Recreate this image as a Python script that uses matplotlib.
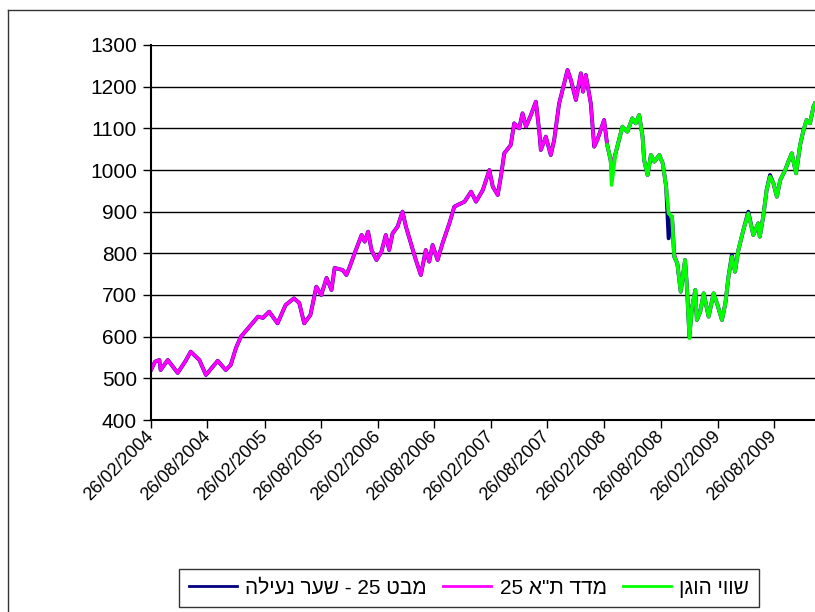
import datetime as dt
import matplotlib
matplotlib.use("Agg")
import matplotlib.pyplot as plt
from matplotlib.lines import Line2D

plt.rcParams['font.family'] = ['Liberation Sans', 'DejaVu Sans']

# labels in visual (left-to-right) order, as drawn by a Hebrew Excel
label_close = "הליענ רעש - 25 טבמ"      # מבט 25 - שער נעילה
label_index = '25 א"ת דדמ'              # מדד ת"א 25
label_fair = "ןגוה יווש"                # שווי הוגן

dates = [
    "2004-02-26", "2004-03-10", "2004-03-24", "2004-03-28", "2004-04-20", "2004-05-15",
    "2004-05-22", "2004-06-15", "2004-07-03", "2004-07-31", "2004-08-21", "2004-09-28",
    "2004-10-24", "2004-11-09", "2004-11-26", "2004-12-12", "2005-01-04", "2005-02-05",
    "2005-02-21", "2005-03-13", "2005-04-09", "2005-05-05", "2005-06-01", "2005-06-18",
    "2005-07-04", "2005-07-24", "2005-08-12", "2005-08-28", "2005-09-14", "2005-09-30",
    "2005-10-10", "2005-11-05", "2005-11-17", "2005-11-28", "2005-12-14", "2006-01-05",
    "2006-01-15", "2006-01-26", "2006-02-06", "2006-02-22", "2006-03-10", "2006-03-24",
    "2006-04-04", "2006-04-15", "2006-05-01", "2006-05-17", "2006-05-28", "2006-06-13",
    "2006-06-29", "2006-07-15", "2006-07-31", "2006-08-11", "2006-08-22", "2006-09-07",
    "2006-09-23", "2006-10-15", "2006-10-31", "2006-12-03", "2006-12-24", "2007-01-09",
    "2007-01-31", "2007-02-21", "2007-03-04", "2007-03-20", "2007-03-31", "2007-04-10",
    "2007-05-01", "2007-05-12", "2007-05-28", "2007-06-08", "2007-06-19", "2007-07-05",
    "2007-07-21", "2007-08-01", "2007-08-06", "2007-08-22", "2007-09-07", "2007-09-18",
    "2007-10-04", "2007-10-15", "2007-10-31", "2007-11-11", "2007-11-27", "2007-12-13",
    "2007-12-20", "2007-12-29", "2008-01-14", "2008-01-25", "2008-02-04", "2008-02-26",
    "2008-03-07",
    # fair value starts at 2008-03-07
    "2008-03-18", "2008-03-21", "2008-04-03", "2008-04-14", "2008-04-25",
    "2008-05-11", "2008-05-27", "2008-06-07", "2008-06-18", "2008-06-29", "2008-07-04",
    "2008-07-15", "2008-07-26", "2008-08-06", "2008-08-22", "2008-09-02", "2008-09-13",
    "2008-09-21", "2008-10-02", "2008-10-09", "2008-10-19", "2008-10-30", "2008-11-13",
    "2008-11-19", "2008-11-27", "2008-12-05", "2008-12-16", "2008-12-21", "2009-01-01",
    "2009-01-12", "2009-01-28", "2009-02-13", "2009-02-24", "2009-03-12", "2009-03-23",
    "2009-04-02", "2009-04-13", "2009-04-23", "2009-05-04", "2009-05-20", "2009-06-05",
    "2009-06-21", "2009-07-07", "2009-07-12", "2009-07-23", "2009-08-03", "2009-08-14",
    "2009-08-25", "2009-09-05", "2009-09-16", "2009-10-02", "2009-10-12", "2009-10-23",
    "2009-11-06", "2009-11-19", "2009-11-30", "2009-12-10", "2009-12-21", "2010-01-01",
    "2010-01-06",
]

index_values = [
    520, 540, 544, 520, 544, 520, 513, 540, 564, 544, 508, 542,
    520, 532, 573, 600, 620, 648, 645, 660, 632, 676, 692, 681,
    632, 652, 720, 700, 741, 712, 765, 760, 748, 768, 801, 844,
    828, 852, 808, 784, 804, 844, 808, 848, 864, 900, 864, 824,
    784, 748, 808, 780, 820, 784, 824, 872, 912, 924, 948, 924,
    952, 1000, 960, 940, 988, 1040, 1060, 1112, 1100, 1136, 1104, 1132,
    1164, 1092, 1048, 1080, 1036, 1072, 1160, 1192, 1240, 1216, 1168, 1232,
    1188, 1228, 1160, 1056, 1072, 1120, 1060,
    1024, 1010, 1040, 1072, 1104,
    1092, 1124, 1112, 1132, 1080, 1024, 988, 1036, 1020, 1036, 1016, 960,
    896, 888, 800, 776, 708, 784, 720, 610, 668, 712, 640, 660,
    704, 648, 704, 680, 640, 680, 744, 792, 756, 808, 856, 896,
    844, 872, 840, 888, 952, 984, 968, 936, 976, 1000, 1020, 1040,
    992, 1060, 1096, 1120, 1112, 1152, 1160,
]

close_values = [
    520, 540, 544, 520, 544, 520, 513, 540, 564, 544, 508, 542,
    520, 532, 573, 600, 620, 648, 645, 660, 632, 676, 692, 681,
    632, 652, 720, 700, 741, 712, 765, 760, 748, 768, 801, 844,
    828, 852, 808, 784, 804, 844, 808, 848, 864, 900, 864, 824,
    784, 748, 808, 780, 820, 784, 824, 872, 912, 924, 948, 924,
    952, 1000, 960, 940, 988, 1040, 1060, 1112, 1100, 1136, 1104, 1132,
    1164, 1092, 1048, 1080, 1036, 1072, 1160, 1192, 1240, 1216, 1168, 1232,
    1188, 1228, 1160, 1056, 1072, 1120, 1060,
    1024, 1000, 1040, 1072, 1104,
    1092, 1124, 1112, 1132, 1080, 1024, 988, 1036, 1020, 1036, 1016, 960,
    836, 888, 792, 776, 708, 784, 720, 600, 668, 712, 640, 660,
    704, 648, 704, 680, 640, 680, 744, 796, 756, 808, 856, 900,
    844, 872, 840, 888, 952, 988, 968, 936, 976, 1000, 1020, 1040,
    992, 1060, 1096, 1120, 1112, 1152, 1160,
]

fair_values = [
    1060,
    1024, 964, 1040, 1072, 1104,
    1092, 1124, 1112, 1132, 1080, 1024, 988, 1036, 1020, 1036, 1016, 960,
    896, 888, 792, 776, 708, 784, 720, 596, 668, 712, 640, 660,
    704, 648, 704, 680, 640, 680, 744, 792, 756, 808, 856, 896,
    844, 872, 840, 888, 952, 984, 968, 936, 976, 1000, 1020, 1040,
    992, 1060, 1096, 1120, 1112, 1152, 1160,
]

x = [dt.datetime.strptime(d, "%Y-%m-%d") for d in dates]
x_fair = x[len(x) - len(fair_values):]

label_dates = [dt.datetime(y, m, 26) for y in range(2004, 2010) for m in (2, 8)]

fig = plt.figure(figsize=(8.15, 6.12), dpi=100)
ax = fig.add_axes([151 / 815, 1 - 420 / 612, 664 / 815, 375 / 612])

ax.plot(x, close_values, color='#000080', linewidth=2.8, label=label_close)
ax.plot(x, index_values, color='#FF00FF', linewidth=2.4, label=label_index)
ax.plot(x_fair, fair_values, color='#00FF00', linewidth=2.6, label=label_fair)

ax.set_ylim(400, 1300)
ax.set_yticks(range(400, 1301, 100))
ax.set_xlim(x[0], x[-1])
ax.yaxis.grid(True, color='black', linewidth=1)
ax.set_axisbelow(True)

ax.set_xticks(label_dates)
ax.set_xticklabels([d.strftime("%d/%m/%Y") for d in label_dates], rotation=45,
                   ha='right', va='center', rotation_mode='anchor')
ax.tick_params(axis='x', length=6, width=1, direction='out', pad=4, labelsize=13)
ax.tick_params(axis='y', length=6, width=1, direction='out', pad=4, labelsize=15)

for side in ('top', 'right'):
    ax.spines[side].set_visible(False)
for side in ('left', 'bottom'):
    ax.spines[side].set_linewidth(1.5)

# outer chart border (continues past the image edges)
fig.add_artist(Line2D([8 / 815, 8 / 815], [0, 1 - 10 / 612], transform=fig.transFigure,
                      color='#333333', linewidth=1))
fig.add_artist(Line2D([8 / 815, 1], [1 - 10 / 612, 1 - 10 / 612], transform=fig.transFigure,
                      color='#333333', linewidth=1))

leg = fig.legend(loc='center', bbox_to_anchor=(469 / 815, 1 - 588 / 612), ncol=3,
                 fontsize=15, handlelength=2.3, columnspacing=0.8, handletextpad=0.4,
                 frameon=True, fancybox=False, borderpad=0.45)
leg.get_frame().set_edgecolor('black')
leg.get_frame().set_linewidth(1)
for line in leg.get_lines():
    line.set_linewidth(2)

fig.savefig("out.png", dpi=100)
